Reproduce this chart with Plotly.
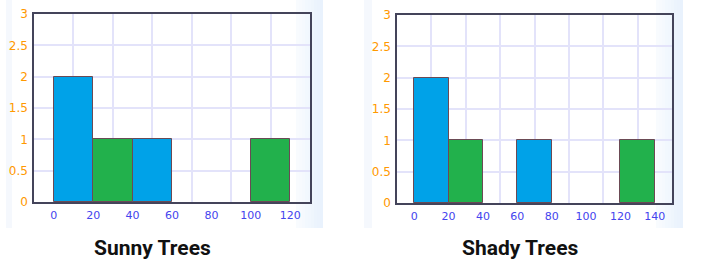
import plotly.graph_objects as go

W, H = 703, 270

# ---- data ----
sunny_bin_start = [0, 20, 40, 100]
sunny_counts = [2, 1, 1, 1]
sunny_colors = ["#00A2E8", "#22B14C", "#00A2E8", "#22B14C"]

shady_bin_start = [0, 20, 60, 120]
shady_counts = [2, 1, 1, 1]
shady_colors = ["#00A2E8", "#22B14C", "#00A2E8", "#22B14C"]

bin_width = 20
sunny_ticks = [0, 20, 40, 60, 80, 100, 120]
shady_ticks = [0, 20, 40, 60, 80, 100, 120, 140]
sunny_grid = [10, 30, 50, 70, 90, 110]
shady_grid = [10, 30, 50, 70, 90, 110, 130]
y_ticks = [0, 0.5, 1, 1.5, 2, 2.5, 3]
titles = ["Sunny Trees", "Shady Trees"]

fig = go.Figure()

fig.add_trace(go.Bar(x=sunny_bin_start, y=sunny_counts, width=bin_width, offset=0,
                     marker=dict(color=sunny_colors, line=dict(color="#6b4a55", width=1)),
                     xaxis="x", yaxis="y", showlegend=False, hoverinfo="skip"))
fig.add_trace(go.Bar(x=shady_bin_start, y=shady_counts, width=bin_width, offset=0,
                     marker=dict(color=shady_colors, line=dict(color="#6b4a55", width=1)),
                     xaxis="x2", yaxis="y2", showlegend=False, hoverinfo="skip"))

def px_x(v):
    return v / W

def px_y(v):
    return 1 - v / H

grid_col = "#E3E3FA"
tick_font_x = dict(family="DejaVu Sans", size=11, color="#4444EE")
tick_font_y = dict(family="DejaVu Sans", size=12, color="#FF9900")

def xaxis(domain, rng, ticks, grid, anchor):
    return dict(domain=domain, range=rng, anchor=anchor, tickmode="array",
                tickvals=ticks, ticktext=[str(t) for t in ticks], showgrid=False,
                minor=dict(tickvals=grid, showgrid=True, gridcolor=grid_col, gridwidth=2, ticks=""),
                showline=True, mirror=True, linecolor="#44445a", linewidth=1.5,
                zeroline=False, ticks="", tickfont=tick_font_x, ticklabelstandoff=2,
                automargin=False, fixedrange=True)

def yaxis(domain, anchor):
    return dict(domain=domain, range=[0, 3], anchor=anchor, tickmode="array",
                tickvals=y_ticks, ticktext=["0", "0.5", "1", "1.5", "2", "2.5", "3"],
                showgrid=True, gridcolor=grid_col, gridwidth=2,
                showline=True, mirror=True, linecolor="#44445a", linewidth=1.5,
                zeroline=False, ticks="", tickfont=tick_font_y, ticklabelstandoff=2,
                automargin=False, fixedrange=True)

# panel background stripes (light blue fade at right edges)
shapes = []
for (x0, x1) in [(296, 323), (656, 683)]:
    n = 9
    for i in range(n):
        a = x0 + (x1 - x0) * i / n
        b = x0 + (x1 - x0) * (i + 1) / n
        shapes.append(dict(type="rect", xref="paper", yref="paper",
                           x0=px_x(a), x1=px_x(b), y0=px_y(228), y1=1,
                           fillcolor="rgba(225,238,252,%.2f)" % (0.15 + 0.6 * (i + 1) / n),
                           line=dict(width=0), layer="below"))
for (x0, x1) in [(6, 12), (364, 372)]:
    shapes.append(dict(type="rect", xref="paper", yref="paper",
                       x0=px_x(x0), x1=px_x(x1), y0=px_y(228), y1=1,
                       fillcolor="rgba(235,242,252,0.5)", line=dict(width=0), layer="below"))

annotations = [
    dict(text="<b>%s</b>" % titles[0], x=px_x(152), y=px_y(248), xref="paper", yref="paper",
         showarrow=False, xanchor="center", yanchor="middle",
         font=dict(family="Roboto", size=21, color="#111111")),
    dict(text="<b>%s</b>" % titles[1], x=px_x(520), y=px_y(248), xref="paper", yref="paper",
         showarrow=False, xanchor="center", yanchor="middle",
         font=dict(family="Roboto", size=21, color="#111111")),
]

fig.update_layout(
    width=W, height=H, margin=dict(l=0, r=0, t=0, b=0, pad=0),
    paper_bgcolor="white", plot_bgcolor="white",
    bargap=0,
    xaxis=xaxis([px_x(34), px_x(310)], [-10, 130], sunny_ticks, sunny_grid, "y"),
    yaxis=yaxis([px_y(202), px_y(14)], "x"),
    xaxis2=xaxis([px_x(397), px_x(672)], [-10, 150], shady_ticks, shady_grid, "y2"),
    yaxis2=yaxis([px_y(203), px_y(15)], "x2"),
    shapes=shapes, annotations=annotations,
)

fig.write_html("out.html")
